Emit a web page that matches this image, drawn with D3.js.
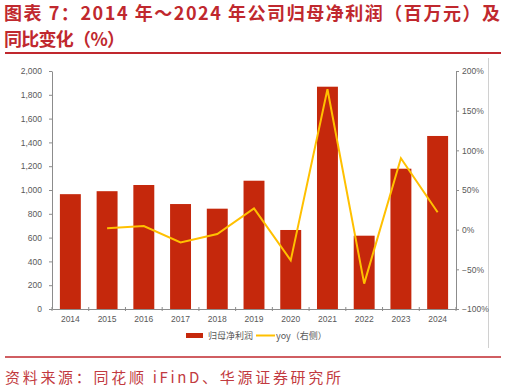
<!DOCTYPE html>
<html>
<head>
<meta charset="utf-8">
<script src="https://cdn.jsdelivr.net/npm/d3@7"></script>
<style>
  body { margin: 0; background: #fff; }
  svg { display: block; font-family: "Noto Sans CJK SC", "Noto Sans", sans-serif; }
</style>
</head>
<body>
<script>
// data
var years = ["2014","2015","2016","2017","2018","2019","2020","2021","2022","2023","2024"];
var profit = [965, 990, 1042, 882, 843, 1078, 664, 1868, 616, 1179, 1454];
var yoyYears = ["2015","2016","2017","2018","2019","2020","2021","2022","2023","2024"];
var yoy = [1.7, 4.6, -16, -5.4, 26.8, -38.7, 177, -68, 90, 22];
var leftTicks = [0, 200, 400, 600, 800, 1000, 1200, 1400, 1600, 1800, 2000];
var rightTicks = [-100, -50, 0, 50, 100, 150, 200];

var W = 506, H = 390;
var plot = { left: 52, right: 456, top: 71, bottom: 309 };
var red = "#c0282e", barColor = "#c5280c", lineColor = "#ffc000", axisColor = "#8c8c8c", txt = "#595959";

var svg = d3.select("body").append("svg").
  attr("width", W).
  attr("height", H);

// title
var title = svg.append("g").attr("fill", red).attr("font-weight", "bold").attr("font-size", 18);
title.append("text").attr("x", 4).attr("y", 20).
  attr("textLength", 496).attr("lengthAdjust", "spacing").
  text("图表 7：2014 年～2024 年公司归母净利润（百万元）及");
title.append("text").attr("x", 4).attr("y", 46).
  attr("textLength", 121).attr("lengthAdjust", "spacing").
  text("同比变化（%）");
svg.append("line").attr("x1", 5).attr("x2", 501).attr("y1", 53).attr("y2", 53).
  attr("stroke", red).attr("stroke-width", 2);

// frame edge on the right
svg.append("line").attr("x1", 488.5).attr("x2", 488.5).attr("y1", 58).attr("y2", 348).
  attr("stroke", "#d0d0d0").attr("stroke-width", 1);

var x = d3.scaleBand().domain(years).range([plot.left, plot.right]).
  paddingInner(0.43).paddingOuter(0.215);
var y = d3.scaleLinear().domain([0, 2000]).range([plot.bottom, plot.top]);
var y2 = d3.scaleLinear().domain([-100, 200]).range([plot.bottom, plot.top]);

// bars
svg.append("g").selectAll("rect").data(years).join("rect").
  attr("x", function(d) { return x(d); }).
  attr("width", x.bandwidth()).
  attr("y", function(d, i) { return y(profit[i]); }).
  attr("height", function(d, i) { return y(0) - y(profit[i]); }).
  attr("fill", barColor);

// yoy line
var line = d3.line().
  x(function(d, i) { return x(yoyYears[i]) + x.bandwidth() / 2; }).
  y(function(d) { return y2(d); });
svg.append("path").datum(yoy).
  attr("d", line).
  attr("fill", "none").
  attr("stroke", lineColor).
  attr("stroke-width", 2).
  attr("stroke-linejoin", "miter");

// axes
function styleAxis(g) {
  g.select(".domain").attr("stroke", axisColor);
  g.selectAll(".tick line").attr("stroke", axisColor);
  g.selectAll(".tick text").attr("fill", txt).attr("font-size", 8.5).attr("font-family", "Liberation Sans, Arial, sans-serif");
}

var yAxis = d3.axisLeft(y).tickValues(leftTicks).tickSize(3).tickPadding(7).tickSizeOuter(0).
  tickFormat(d3.format(","));
svg.append("g").attr("transform", "translate(" + plot.left + ",0)").call(yAxis).call(styleAxis);

var y2Axis = d3.axisRight(y2).tickValues(rightTicks).tickSize(3).tickPadding(3).tickSizeOuter(0).
  tickFormat(function(d) { return (d < 0 ? "\u2212" + (-d) : d) + "%"; });
svg.append("g").attr("transform", "translate(" + plot.right + ",0)").call(y2Axis).call(styleAxis);

var xAxis = d3.axisBottom(x).tickSize(0).tickPadding(7).tickSizeOuter(0);
var gx = svg.append("g").attr("transform", "translate(0," + plot.bottom + ")").call(xAxis).call(styleAxis);
// ticks between categories
var bounds = d3.range(years.length + 1).map(function(i) { return plot.left + i * x.step(); });
gx.selectAll(".sep").data(bounds).join("line").
  attr("x1", function(d) { return d; }).attr("x2", function(d) { return d; }).
  attr("y1", -2).attr("y2", 2).attr("stroke", axisColor);

// legend
var lg = svg.append("g").attr("font-size", 9).attr("fill", txt);
lg.append("rect").attr("x", 186).attr("y", 333).attr("width", 17).attr("height", 5).attr("fill", barColor);
lg.append("text").attr("x", 208).attr("y", 339).text("归母净利润");
lg.append("line").attr("x1", 256).attr("x2", 275).attr("y1", 335.5).attr("y2", 335.5).
  attr("stroke", lineColor).attr("stroke-width", 2);
lg.append("text").attr("x", 276).attr("y", 339).text("yoy（右侧）");

// source
svg.append("line").attr("x1", 5).attr("x2", 501).attr("y1", 357).attr("y2", 357).
  attr("stroke", red).attr("stroke-width", 1.5);
svg.append("text").attr("x", 5).attr("y", 383).attr("fill", "#c23a40").attr("font-size", 15).
  attr("textLength", 336).attr("lengthAdjust", "spacing").
  text("资料来源：同花顺 iFinD、华源证券研究所");
</script>
</body>
</html>
